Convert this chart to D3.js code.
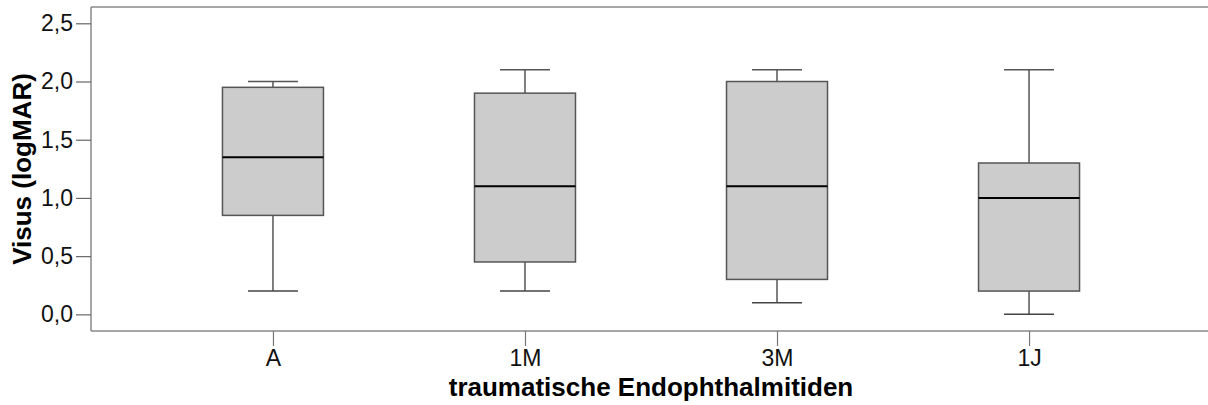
<!DOCTYPE html>
<html><head><meta charset="utf-8">
<script src="https://cdn.jsdelivr.net/npm/d3@7"></script>
<style>body{margin:0;background:#fff}svg{display:block}</style>
</head><body>
<svg id="c" width="1208" height="405"></svg>
<script>
const categories = ["A", "1M", "3M", "1J"];
const whiskerLow  = [0.20, 0.20, 0.10, 0.00];
const q1          = [0.85, 0.45, 0.30, 0.20];
const median      = [1.35, 1.10, 1.10, 1.00];
const q3          = [1.95, 1.90, 2.00, 1.30];
const whiskerHigh = [2.00, 2.10, 2.10, 2.10];
const yTicks = [0, 0.5, 1.0, 1.5, 2.0, 2.5];
const yLabel = "Visus (logMAR)";
const xLabel = "traumatische Endophthalmitiden";

const data = categories.map((c, i) => ({c, lo: whiskerLow[i], q1: q1[i], med: median[i], q3: q3[i], hi: whiskerHigh[i]}));

const svg = d3.select("#c");
const pL = 91, pR = 1211, pT = 7, pB = 331;
const x = d3.scalePoint().domain(categories).range([pL, pR]).padding(0.722);
const y = d3.scaleLinear().domain([-0.143, 2.64]).range([pB, pT]);
const fmt = d => d3.format(".1f")(d).replace(".", ",");
const font = "'Liberation Sans', Arial, sans-serif";
const axisCol = "#888";

// frame
svg.append("line").attr("x1", pL).attr("x2", pR).attr("y1", pT).attr("y2", pT).attr("stroke", axisCol).attr("stroke-width", 1.5);

// y axis
const ya = svg.append("g").attr("transform", `translate(${pL},0)`)
  .call(d3.axisLeft(y).tickValues(yTicks).tickFormat(fmt).tickSize(15).tickPadding(3));
ya.select(".domain").attr("stroke", axisCol).attr("stroke-width", 1.5).attr("d", `M0,${pT}V${pB}`);
ya.selectAll(".tick line").attr("stroke", "#666").attr("stroke-width", 1.2);
ya.selectAll(".tick text").attr("font-family", font).attr("font-size", 23).attr("fill", "#111");

// x axis
const xa = svg.append("g").attr("transform", `translate(0,${pB})`)
  .call(d3.axisBottom(x).tickSize(15).tickPadding(4));
xa.select(".domain").attr("stroke", axisCol).attr("stroke-width", 1.5).attr("d", `M${pL},0H${pR}`);
xa.selectAll(".tick line").attr("stroke", "#777").attr("stroke-width", 1.2);
xa.selectAll(".tick text").attr("font-family", font).attr("font-size", 23).attr("fill", "#111");

// boxes
const boxW = 101, capW = 50;
const g = svg.append("g").selectAll("g").data(data).join("g");
g.append("line").attr("x1", d => x(d.c)).attr("x2", d => x(d.c))
  .attr("y1", d => y(d.hi)).attr("y2", d => y(d.q3)).attr("stroke", "#555").attr("stroke-width", 1.5);
g.append("line").attr("x1", d => x(d.c)).attr("x2", d => x(d.c))
  .attr("y1", d => y(d.q1)).attr("y2", d => y(d.lo)).attr("stroke", "#555").attr("stroke-width", 1.5);
g.append("line").attr("x1", d => x(d.c) - capW/2).attr("x2", d => x(d.c) + capW/2)
  .attr("y1", d => y(d.hi)).attr("y2", d => y(d.hi)).attr("stroke", "#555").attr("stroke-width", 1.5);
g.append("line").attr("x1", d => x(d.c) - capW/2).attr("x2", d => x(d.c) + capW/2)
  .attr("y1", d => y(d.lo)).attr("y2", d => y(d.lo)).attr("stroke", "#444").attr("stroke-width", 1.5);
g.append("rect").attr("x", d => x(d.c) - boxW/2).attr("width", boxW)
  .attr("y", d => y(d.q3)).attr("height", d => y(d.q1) - y(d.q3))
  .attr("fill", "#cccccc").attr("stroke", "#555").attr("stroke-width", 1.5);
g.append("line").attr("x1", d => x(d.c) - boxW/2).attr("x2", d => x(d.c) + boxW/2)
  .attr("y1", d => y(d.med)).attr("y2", d => y(d.med)).attr("stroke", "#000").attr("stroke-width", 2);

// labels
svg.append("text").attr("transform", `translate(31,${(pT+pB)/2}) rotate(-90)`)
  .attr("text-anchor", "middle").attr("font-family", font).attr("font-weight", "bold")
  .attr("font-size", 26).attr("fill", "#000").text(yLabel);
svg.append("text").attr("x", (x("A") + x("1J")) / 2).attr("y", 396)
  .attr("text-anchor", "middle").attr("font-family", font).attr("font-weight", "bold")
  .attr("font-size", 26).attr("fill", "#000").text(xLabel);
</script>
</body></html>
